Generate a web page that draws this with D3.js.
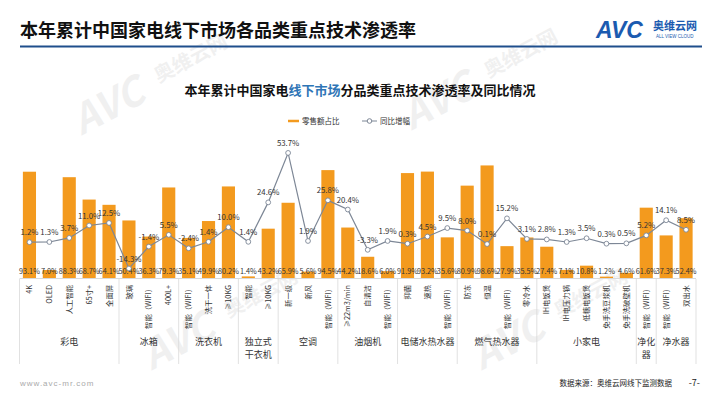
<!DOCTYPE html>
<html><head><meta charset="utf-8">
<script src="https://cdn.jsdelivr.net/npm/d3@7/dist/d3.min.js"></script>
<style>
html,body{margin:0;padding:0;background:#fff;}
svg{display:block;font-family:"Noto Sans CJK SC","Noto Sans",sans-serif;}
</style></head>
<body><svg id="c" width="720" height="405"></svg>
<script>
const categories = ["4K","OLED","人工智能","65寸+","全面屏","玻璃","智能（WIFI）","400L+","智能（WIFI）","洗干一体","≥10KG","智能","≥10KG","新一级","新风","智能（WIFI）","≥22m3/min","自清洁","智能（WIFI）","抑菌","速热","智能（WIFI）","防冻","恒温","智能（WIFI）","零冷水","IH电饭煲","IH电压力锅","低糖电饭煲","免手洗豆浆机","免手洗破壁机","智能（WIFI）","智能（WIFI）","双出水"];
const groupIndex = [0,0,0,0,0,1,1,1,2,2,2,3,3,4,4,4,5,5,5,6,6,6,7,7,7,7,8,8,8,8,8,9,10,10];
const groupLabels = [["彩电"],["冰箱"],["洗衣机"],["独立式","干衣机"],["空调"],["油烟机"],["电储水热水器"],["燃气热水器"],["小家电"],["净化","器"],["净水器"]];
const share = [93.1,7.0,88.3,68.7,64.1,50.4,36.3,79.3,35.1,49.9,80.2,1.4,43.2,65.9,5.6,94.5,44.2,18.6,6.0,91.9,93.2,35.6,80.9,98.6,27.9,35.5,27.4,7.1,10.8,1.2,4.6,61.6,37.3,52.4];
const yoy = [1.2,1.3,3.7,11.0,12.5,-14.3,-1.4,5.5,-2.4,1.4,10.0,1.4,24.6,53.7,1.9,25.8,20.4,-3.3,1.9,0.3,4.5,9.5,8.0,0.1,15.2,3.1,2.8,1.3,3.5,0.3,0.5,5.2,14.1,8.5];
const legendLabels = ["零售额占比","同比增幅"];

const svg = d3.select("#c");
const orange = "#f39a1e", lineCol = "#7d8796", txt = "#333";

// watermarks
[[130,110],[460,105],[200,345],[530,345]].forEach(([x,y])=>{
  const g = svg.append("g").attr("transform",`translate(${x},${y}) rotate(-28)`).attr("opacity",0.055);
  g.append("text").attr("x",-55).attr("y",0).attr("font-size",40).attr("font-weight","bold").attr("font-style","italic").attr("fill","#000").text("AVC");
  g.append("text").attr("x",38).attr("y",-10).attr("font-size",20).attr("font-weight","bold").attr("fill","#000").text("奥维云网");
});

// header
svg.append("text").attr("x",20).attr("y",37).attr("font-size",18).attr("font-weight","bold").attr("fill","#111").text("本年累计中国家电线下市场各品类重点技术渗透率");
svg.append("line").attr("x1",20).attr("x2",702).attr("y1",46.5).attr("y2",46.5).attr("stroke","#1f4e8c").attr("stroke-width",2);
svg.append("text").attr("x",596).attr("y",38).attr("font-size",23).attr("font-weight","bold").attr("font-style","italic").attr("fill","#1b5bb0").attr("font-family","Liberation Sans, Arial").text("AVC");
svg.append("text").attr("x",653).attr("y",30).attr("font-size",11).attr("font-weight","bold").attr("fill","#1b5bb0").text("奥维云网");
svg.append("text").attr("x",656).attr("y",38).attr("font-size",4.5).attr("fill","#1b5bb0").attr("font-family","Liberation Sans, Arial").text("ALL VIEW CLOUD");

// subtitle
const st = svg.append("text").attr("x",360).attr("y",95).attr("text-anchor","middle").attr("font-size",13).attr("font-weight","bold").attr("fill","#111");
st.append("tspan").text("本年累计中国家电");
st.append("tspan").attr("fill","#2e75b6").text("线下市场");
st.append("tspan").text("分品类重点技术渗透率及同比情况");

// legend
svg.append("line").attr("x1",288).attr("x2",299).attr("y1",121).attr("y2",121).attr("stroke",orange).attr("stroke-width",2.5);
svg.append("text").attr("x",302).attr("y",124).attr("font-size",7.5).attr("fill",txt).text(legendLabels[0]);
svg.append("line").attr("x1",362).attr("x2",377).attr("y1",121).attr("y2",121).attr("stroke",lineCol).attr("stroke-width",1);
svg.append("circle").attr("cx",369.5).attr("cy",121).attr("r",2.3).attr("fill","#fff").attr("stroke",lineCol);
svg.append("text").attr("x",380).attr("y",124).attr("font-size",7.5).attr("fill",txt).text(legendLabels[1]);

// scales
const x = d3.scaleBand().domain(d3.range(categories.length)).range([19.5,696]).paddingInner(0.34).paddingOuter(0.17);
const yBar = d3.scaleLinear().domain([0,120]).range([278,141]);
const yLine = d3.scaleLinear().domain([-20,60]).range([278.2,142.2]);
const cx = i => x(i) + x.bandwidth()/2;
const step = x.step(), x0 = 19.5;

// bars
svg.append("g").selectAll("rect").data(share).join("rect")
  .attr("x",(d,i)=>x(i)).attr("width",x.bandwidth())
  .attr("y",d=>yBar(d)).attr("height",d=>yBar(0)-yBar(d)).attr("fill",orange);

// axis line
svg.append("line").attr("x1",x0).attr("x2",x0+step*categories.length).attr("y1",278.5).attr("y2",278.5).attr("stroke","#d9d9d9").attr("stroke-width",1);

// bar labels
svg.append("g").selectAll("text").data(share).join("text")
  .attr("x",(d,i)=>cx(i)).attr("y",274).attr("text-anchor","middle").attr("font-size",7.3).attr("fill",txt)
  .text(d=>d.toFixed(1)+"%");

// line
const line = d3.line().x((d,i)=>cx(i)).y(d=>yLine(d));
svg.append("path").datum(yoy).attr("d",line).attr("fill","none").attr("stroke",lineCol).attr("stroke-width",1.2);
svg.append("g").selectAll("circle").data(yoy).join("circle")
  .attr("cx",(d,i)=>cx(i)).attr("cy",d=>yLine(d)).attr("r",2.4).attr("fill","#fff").attr("stroke",lineCol).attr("stroke-width",0.9);
svg.append("g").selectAll("text").data(yoy).join("text")
  .attr("x",(d,i)=>cx(i)).attr("y",d=>yLine(d)-7).attr("text-anchor","middle").attr("font-size",7.8).attr("fill",txt)
  .text(d=>d.toFixed(1)+"%");

// category tick labels (rotated)
svg.append("g").selectAll("text").data(categories).join("text")
  .attr("transform",(d,i)=>`translate(${cx(i)+2.6},285) rotate(-90)`)
  .attr("text-anchor","end").attr("font-size",7.3).attr("fill",txt).text(d=>d);

// group separators and labels
const bounds = [0];
groupIndex.forEach((g,i)=>{ if(i>0 && g!==groupIndex[i-1]) bounds.push(i); });
bounds.push(categories.length);
svg.append("g").selectAll("line").data(bounds).join("line")
  .attr("x1",b=>x0+b*step).attr("x2",b=>x0+b*step).attr("y1",279).attr("y2",364)
  .attr("stroke","#d9d9d9").attr("stroke-width",0.8);
groupLabels.forEach((lines,gi)=>{
  const mid = (x0+bounds[gi]*step + x0+bounds[gi+1]*step)/2;
  lines.forEach((t,k)=>{
    svg.append("text").attr("x",mid).attr("y",345+k*13).attr("text-anchor","middle").attr("font-size",9).attr("fill",txt).text(t);
  });
});

// footer
svg.append("text").attr("x",20).attr("y",386).attr("font-size",8).attr("fill","#aaa").attr("letter-spacing",1).attr("font-family","Liberation Sans, Arial").text("www.avc-mr.com");
svg.append("text").attr("x",672).attr("y",386).attr("text-anchor","end").attr("font-size",7.5).attr("fill","#222").text("数据来源：奥维云网线下监测数据");
svg.append("text").attr("x",700).attr("y",386).attr("text-anchor","end").attr("font-size",9).attr("fill","#222").text("-7-");
</script></body></html>
